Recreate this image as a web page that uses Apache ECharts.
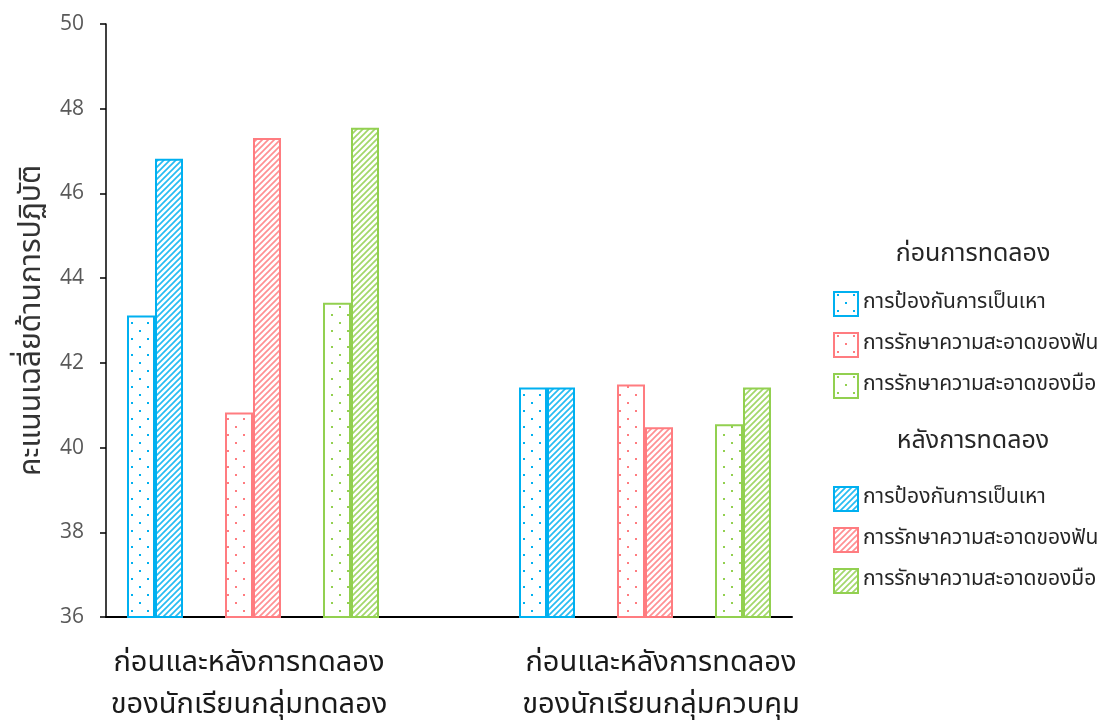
<!DOCTYPE html>
<html>
<head>
<meta charset="utf-8">
<script src="https://cdn.jsdelivr.net/npm/echarts@6/dist/echarts.min.js"></script>
<style>
  html, body { margin: 0; padding: 0; background: #fff; }
  #chart { width: 1110px; height: 725px; }
</style>
</head>
<body>
<div id="chart"></div>
<script>
// Group captions under the x axis
const groupLabels = [
  ['ก่อนและหลังการทดลอง', 'ของนักเรียนกลุ่มทดลอง'],
  ['ก่อนและหลังการทดลอง', 'ของนักเรียนกลุ่มควบคุม']
];
// Practice topics (one pair of bars per topic in each group)
const topics = ['การป้องกันการเป็นเหา', 'การรักษาความสะอาดของฟัน', 'การรักษาความสะอาดของมือ'];
const legendTitles = ['ก่อนการทดลอง', 'หลังการทดลอง'];
const yTitle = 'คะแนนเฉลี่ยด้านการปฏิบัติ';

// Mean practice scores
const experimentalBefore = [43.12, 40.83, 43.42];
const experimentalAfter  = [46.82, 47.31, 47.55];
const controlBefore      = [41.42, 41.49, 40.55];
const controlAfter       = [41.42, 40.48, 41.42];

const yMin = 36, yMax = 50, yStep = 2;

const colors = ['#00B0F0', '#FF7C80', '#92D050'];
const thaiFont = '"Noto Sans Thai", "Noto Sans Thai UI", Tahoma, "Leelawadee UI", "Noto Sans", sans-serif';

// Slots along the x axis: three topic pairs, a spacer, three topic pairs
const slotCount = 7;
const experimentalSlots = [0, 1, 2];
const controlSlots = [4, 5, 6];

function dotPattern(color) {
  const c = document.createElement('canvas');
  c.width = 16; c.height = 16;
  const ctx = c.getContext('2d');
  ctx.fillStyle = '#ffffff';
  ctx.fillRect(0, 0, 16, 16);
  ctx.fillStyle = color;
  ctx.fillRect(3, 2, 2, 2);
  ctx.fillRect(11, 10, 2, 2);
  return { image: c, repeat: 'repeat' };
}

function hatchPattern(color) {
  const s = 6;
  const c = document.createElement('canvas');
  c.width = s; c.height = s;
  const ctx = c.getContext('2d');
  ctx.fillStyle = '#ffffff';
  ctx.fillRect(0, 0, s, s);
  ctx.strokeStyle = color;
  ctx.globalAlpha = 0.85;
  ctx.lineWidth = 1.7;
  ctx.beginPath();
  ctx.moveTo(-1, s + 1); ctx.lineTo(s + 1, -1);
  ctx.moveTo(-1, 1); ctx.lineTo(1, -1);
  ctx.moveTo(s - 1, s + 1); ctx.lineTo(s + 1, s - 1);
  ctx.stroke();
  return { image: c, repeat: 'repeat' };
}

function slotData(expVal, ctlVal, i) {
  const arr = new Array(slotCount).fill(null);
  arr[experimentalSlots[i]] = expVal;
  arr[controlSlots[i]] = ctlVal;
  return arr;
}

const beforeNames = topics.map(t => t);
const afterNames = topics.map(t => t + ' ');   // distinct keys for the second legend

const series = [];
topics.forEach((t, i) => {
  series.push({
    name: beforeNames[i],
    type: 'bar',
    stack: 'before',
    barWidth: 28,
    barGap: '0%',
    data: slotData(experimentalBefore[i], controlBefore[i], i),
    itemStyle: { color: dotPattern(colors[i]), borderColor: colors[i], borderWidth: 2 },
    emphasis: { disabled: true }
  });
});
topics.forEach((t, i) => {
  series.push({
    name: afterNames[i],
    type: 'bar',
    stack: 'after',
    barWidth: 28,
    barGap: '0%',
    data: slotData(experimentalAfter[i], controlAfter[i], i),
    itemStyle: { color: hatchPattern(colors[i]), borderColor: colors[i], borderWidth: 2 },
    emphasis: { disabled: true }
  });
});

const legendText = { fontSize: 21, color: '#262626', fontFamily: thaiFont, lineHeight: 24 };

const chart = echarts.init(document.getElementById('chart'), null, { renderer: 'canvas' });
chart.setOption({
  animation: false,
  backgroundColor: '#ffffff',
  grid: { left: 106, right: 318, top: 24, bottom: 108, containLabel: false },
  title: [
    { text: legendTitles[0], left: 968, top: 238, textAlign: 'center',
      textStyle: { fontSize: 25, fontWeight: 'normal', color: '#262626', fontFamily: thaiFont } },
    { text: legendTitles[1], left: 968, top: 425, textAlign: 'center',
      textStyle: { fontSize: 25, fontWeight: 'normal', color: '#262626', fontFamily: thaiFont } }
  ],
  legend: [
    { data: beforeNames, orient: 'vertical', left: 828, top: 286, itemWidth: 24, itemHeight: 24,
      itemGap: 15, icon: 'rect', selectedMode: false, textStyle: legendText,
      formatter: n => n.trim() },
    { data: afterNames, orient: 'vertical', left: 828, top: 481, itemWidth: 24, itemHeight: 24,
      itemGap: 15, icon: 'rect', selectedMode: false, textStyle: legendText,
      formatter: n => n.trim() }
  ],
  xAxis: {
    type: 'category',
    data: Array.from({ length: slotCount }, (_, k) => String(k)),
    axisLine: { lineStyle: { color: '#000', width: 2 } },
    axisTick: { show: false },
    axisLabel: {
      interval: 0,
      margin: 27,
      formatter: (v, idx) => {
        if (idx === experimentalSlots[1]) return '{a|' + groupLabels[0][0] + '}\n{a|' + groupLabels[0][1] + '}';
        if (idx === controlSlots[1]) return '{b|' + groupLabels[1][0] + '}\n{b|' + groupLabels[1][1] + '}';
        return '';
      },
      rich: {
        a: { fontSize: 29, lineHeight: 42, color: '#1a1a1a', fontFamily: thaiFont, padding: [0, 8, 0, 0] },
        b: { fontSize: 29, lineHeight: 42, color: '#1a1a1a', fontFamily: thaiFont, padding: [0, 0, 0, 32] }
      }
    },
    splitLine: { show: false }
  },
  yAxis: {
    type: 'value',
    min: yMin, max: yMax, interval: yStep,
    name: yTitle,
    nameLocation: 'middle',
    nameGap: 50,
    nameRotate: 90,
    nameTextStyle: { fontSize: 30, color: '#333333', fontFamily: thaiFont },
    axisLine: { show: true, lineStyle: { color: '#000', width: 1.5 } },
    axisTick: { show: true, inside: false, length: 6, lineStyle: { color: '#000', width: 1.5 } },
    axisLabel: { fontSize: 21, color: '#595959', margin: 22, fontFamily: '"Open Sans", "Noto Sans", sans-serif' },
    splitLine: { show: false }
  },
  series: series
});
</script>
</body>
</html>
